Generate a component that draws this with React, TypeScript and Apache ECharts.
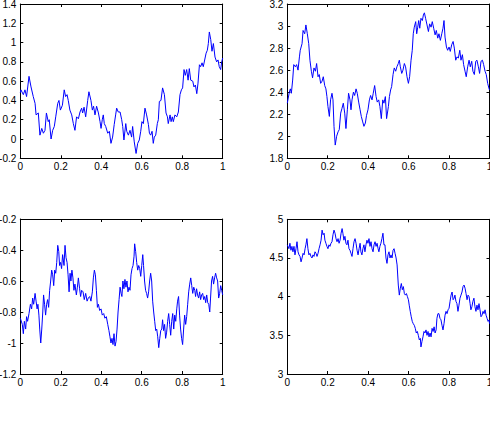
import React, { useEffect, useRef } from "react";
import * as echarts from "echarts";

// x ticks shared by all panels
const X_TICKS = [0, 0.2, 0.4, 0.6, 0.8, 1];

// Panel ranges [min, max, interval]
const Y_RANGES = [
  [-0.2, 1.4, 0.2],
  [1.8, 3.2, 0.2],
  [-1.2, -0.2, 0.2],
  [3, 5, 0.5],
];

// ---- top-left ----
const TL_T = [
  0, 0.003, 0.015, 0.023, 0.031, 0.043, 0.053, 0.064, 0.073, 0.078, 0.089,
  0.097, 0.106, 0.114, 0.122, 0.129, 0.138, 0.143, 0.152, 0.16, 0.168,
  0.175, 0.185, 0.191, 0.198, 0.208, 0.217, 0.224, 0.231, 0.237, 0.245,
  0.254, 0.262, 0.27, 0.278, 0.287, 0.295, 0.303, 0.308, 0.315, 0.323,
  0.333, 0.339, 0.349, 0.356, 0.362, 0.369, 0.377, 0.386, 0.394, 0.399,
  0.405, 0.41, 0.415, 0.422, 0.432, 0.44, 0.448, 0.456, 0.464, 0.471,
  0.476, 0.484, 0.493, 0.501, 0.506, 0.512, 0.521, 0.526, 0.534, 0.542,
  0.55, 0.555, 0.563, 0.572, 0.58, 0.588, 0.595, 0.601, 0.608, 0.616,
  0.624, 0.633, 0.638, 0.644, 0.651, 0.657, 0.662, 0.669, 0.677, 0.682,
  0.687, 0.695, 0.703, 0.712, 0.72, 0.727, 0.731, 0.74, 0.745, 0.751,
  0.756, 0.764, 0.773, 0.781, 0.789, 0.796, 0.802, 0.809, 0.815, 0.822,
  0.829, 0.835, 0.842, 0.852, 0.858, 0.865, 0.872, 0.878, 0.885, 0.891,
  0.898, 0.904, 0.913, 0.918, 0.924, 0.929, 0.934, 0.941, 0.947, 0.954,
  0.962, 0.97, 0.977, 0.983, 0.99, 0.995, 1.0,
];
const TL_V = [
  0.48, 0.51, 0.46, 0.51, 0.44, 0.65, 0.54, 0.44, 0.37, 0.25, 0.27,
  0.04, 0.11, 0.06, 0.09, 0.27, 0.18, 0.2, 0.0, 0.09, 0.13,
  0.23, 0.37, 0.4, 0.3, 0.35, 0.51, 0.44, 0.46, 0.4, 0.3,
  0.25, 0.16, 0.09, 0.23, 0.21, 0.28, 0.32, 0.27, 0.33, 0.23,
  0.4, 0.49, 0.4, 0.3, 0.34, 0.25, 0.34, 0.27, 0.18, 0.11,
  0.2, 0.25, 0.16, 0.13, 0.06, 0.08, -0.045, 0.02, 0.15, 0.25,
  0.32, 0.28, 0.28, 0.2, 0.13, -0.01, 0.16, 0.08, 0.04, 0.09,
  0.02, 0.13, -0.03, -0.15, -0.045, -0.01, 0.08, 0.18, 0.16, 0.32,
  0.25, 0.15, 0.06, 0.04, 0.08, -0.045, 0.02, 0.04, 0.16, 0.2,
  0.39, 0.4, 0.53, 0.46, 0.27, 0.23, 0.16, 0.25, 0.18, 0.23,
  0.18, 0.25, 0.23, 0.28, 0.46, 0.51, 0.53, 0.72, 0.66, 0.72,
  0.61, 0.73, 0.61, 0.6, 0.54, 0.56, 0.47, 0.58, 0.77, 0.75,
  0.79, 0.75, 0.84, 0.89, 0.92, 0.99, 1.11, 1.03, 0.91, 0.99,
  0.85, 0.8, 0.82, 0.75, 0.72, 0.8, 0.84,
];

// ---- top-right ----
const TR_T = [
  0, 0.01, 0.015, 0.02, 0.0265, 0.032, 0.04, 0.046, 0.053, 0.06,
  0.064, 0.073, 0.078, 0.086, 0.092, 0.099, 0.106, 0.112, 0.119, 0.125,
  0.132, 0.139, 0.145, 0.152, 0.158, 0.165, 0.172, 0.178, 0.185, 0.191,
  0.196, 0.201, 0.208, 0.214, 0.221, 0.226, 0.231, 0.237, 0.244, 0.251,
  0.257, 0.264, 0.27, 0.277, 0.284, 0.29, 0.297, 0.303, 0.31, 0.315,
  0.32, 0.327, 0.333, 0.34, 0.346, 0.353, 0.36, 0.366, 0.373, 0.379,
  0.386, 0.392, 0.399, 0.406, 0.412, 0.419, 0.425, 0.432, 0.439, 0.445,
  0.452, 0.458, 0.465, 0.472, 0.478, 0.485, 0.491, 0.5, 0.505, 0.511,
  0.516, 0.523, 0.529, 0.536, 0.542, 0.549, 0.554, 0.559, 0.566, 0.572,
  0.579, 0.585, 0.592, 0.599, 0.605, 0.612, 0.618, 0.623, 0.628, 0.635,
  0.64, 0.645, 0.65, 0.655, 0.661, 0.668, 0.673, 0.678, 0.684, 0.691,
  0.698, 0.704, 0.711, 0.717, 0.724, 0.731, 0.737, 0.744, 0.75, 0.757,
  0.764, 0.77, 0.775, 0.78, 0.787, 0.793, 0.8, 0.806, 0.813, 0.82,
  0.826, 0.833, 0.839, 0.846, 0.853, 0.859, 0.866, 0.872, 0.879, 0.885,
  0.892, 0.899, 0.905, 0.912, 0.918, 0.925, 0.932, 0.938, 0.945, 0.951,
  0.958, 0.965, 0.971, 0.978, 0.984, 0.991, 0.998, 1.0,
];
const TR_V = [
  2.3, 2.4, 2.43, 2.39, 2.51, 2.65, 2.63, 2.65, 2.6, 2.72,
  2.78, 2.84, 2.96, 2.93, 3.01, 2.93, 2.84, 2.69, 2.59, 2.53,
  2.62, 2.59, 2.66, 2.54, 2.56, 2.48, 2.5, 2.54, 2.46, 2.43,
  2.36, 2.27, 2.18, 2.33, 2.39, 2.33, 2.09, 1.92, 2.0, 2.04,
  2.06, 2.21, 2.25, 2.3, 2.21, 2.07, 2.24, 2.39, 2.33, 2.24,
  2.33, 2.4, 2.37, 2.43, 2.39, 2.31, 2.24, 2.18, 2.13, 2.09,
  2.12, 2.19, 2.24, 2.33, 2.37, 2.33, 2.39, 2.46, 2.36, 2.31,
  2.33, 2.27, 2.16, 2.33, 2.3, 2.36, 2.16, 2.27, 2.36, 2.42,
  2.45, 2.56, 2.62, 2.59, 2.63, 2.66, 2.69, 2.63, 2.57, 2.6,
  2.66, 2.63, 2.54, 2.48, 2.54, 2.69, 2.78, 2.93, 2.99, 3.04,
  2.93, 2.99, 3.05, 2.98, 3.07, 3.05, 3.1, 3.12, 3.07, 3.01,
  2.95, 3.02, 2.99, 3.04, 2.98, 2.92, 2.96, 2.89, 2.93, 2.87,
  2.93, 2.98, 3.05, 2.9, 2.81, 2.78, 2.81, 2.77, 2.83, 2.86,
  2.8, 2.69, 2.72, 2.71, 2.78, 2.69, 2.74, 2.65, 2.59, 2.54,
  2.63, 2.69, 2.63, 2.68, 2.59, 2.56, 2.68, 2.69, 2.63, 2.57,
  2.68, 2.69, 2.65, 2.59, 2.56, 2.48, 2.43, 2.42,
];

// ---- bottom-left ----
const BL_T = [
  0, 0.01, 0.015, 0.02, 0.0265, 0.031, 0.036, 0.043, 0.05, 0.056,
  0.061, 0.066, 0.073, 0.078, 0.083, 0.087, 0.092, 0.096, 0.101, 0.106,
  0.111, 0.115, 0.12, 0.125, 0.13, 0.135, 0.14, 0.145, 0.15, 0.155,
  0.16, 0.165, 0.17, 0.175, 0.18, 0.185, 0.19, 0.194, 0.199, 0.204,
  0.209, 0.216, 0.221, 0.226, 0.231, 0.236, 0.241, 0.246, 0.25, 0.255,
  0.26, 0.265, 0.27, 0.277, 0.282, 0.287, 0.293, 0.298, 0.303, 0.31,
  0.316, 0.323, 0.33, 0.336, 0.343, 0.349, 0.356, 0.361, 0.366, 0.371,
  0.376, 0.381, 0.386, 0.392, 0.399, 0.405, 0.412, 0.418, 0.425, 0.432,
  0.438, 0.443, 0.448, 0.453, 0.458, 0.463, 0.468, 0.473, 0.478, 0.483,
  0.488, 0.493, 0.498, 0.502, 0.507, 0.512, 0.517, 0.522, 0.527, 0.532,
  0.537, 0.542, 0.547, 0.552, 0.557, 0.562, 0.565, 0.57, 0.575, 0.58,
  0.585, 0.59, 0.595, 0.6, 0.605, 0.609, 0.614, 0.619, 0.624, 0.629,
  0.634, 0.639, 0.644, 0.649, 0.654, 0.659, 0.664, 0.669, 0.674, 0.679,
  0.684, 0.689, 0.694, 0.699, 0.703, 0.708, 0.713, 0.718, 0.723, 0.728,
  0.733, 0.738, 0.743, 0.748, 0.753, 0.758, 0.763, 0.768, 0.773, 0.777,
  0.782, 0.787, 0.792, 0.797, 0.802, 0.807, 0.812, 0.817, 0.822, 0.827,
  0.832, 0.837, 0.842, 0.847, 0.852, 0.857, 0.862, 0.866, 0.871, 0.876,
  0.881, 0.886, 0.891, 0.896, 0.901, 0.906, 0.911, 0.916, 0.921, 0.926,
  0.931, 0.936, 0.94, 0.945, 0.95, 0.955, 0.96, 0.965, 0.97, 0.975,
  0.98, 0.985, 0.99, 0.995, 1.0,
];
const BL_V = [
  -0.84, -0.88, -0.94, -0.86, -0.91, -0.83, -0.86, -0.81, -0.75, -0.78,
  -0.71, -0.75, -0.68, -0.73, -0.78, -0.75, -0.82, -0.91, -1.0, -0.91,
  -0.8, -0.69, -0.75, -0.82, -0.75, -0.72, -0.77, -0.66, -0.6, -0.53,
  -0.56, -0.63, -0.53, -0.55, -0.48, -0.37, -0.41, -0.5, -0.48, -0.52,
  -0.43, -0.5, -0.37, -0.45, -0.48, -0.56, -0.67, -0.55, -0.6, -0.53,
  -0.58, -0.66, -0.62, -0.69, -0.64, -0.58, -0.65, -0.7, -0.66, -0.67,
  -0.72, -0.68, -0.73, -0.71, -0.7, -0.73, -0.67, -0.58, -0.53, -0.56,
  -0.66, -0.77, -0.75, -0.79, -0.78, -0.82, -0.81, -0.84, -0.83, -0.88,
  -0.92, -0.96, -1.0, -0.97, -1.01, -0.94, -1.02, -0.99, -0.91, -0.8,
  -0.72, -0.64, -0.68, -0.7, -0.6, -0.65, -0.59, -0.64, -0.6, -0.67,
  -0.64, -0.66, -0.56, -0.52, -0.5, -0.44, -0.36, -0.41, -0.48, -0.53,
  -0.5, -0.52, -0.57, -0.5, -0.43, -0.5, -0.6, -0.66, -0.68, -0.71,
  -0.67, -0.6, -0.55, -0.6, -0.73, -0.8, -0.86, -0.92, -0.91, -0.96,
  -1.03, -0.97, -0.92, -0.91, -0.85, -0.92, -0.88, -0.97, -0.93, -0.86,
  -0.81, -0.88, -0.95, -0.86, -0.81, -0.91, -0.82, -0.86, -0.78, -0.73,
  -0.7, -0.82, -0.91, -0.97, -1.01, -0.91, -0.82, -0.88, -0.83, -0.75,
  -0.67, -0.62, -0.58, -0.63, -0.68, -0.64, -0.66, -0.7, -0.65, -0.69,
  -0.71, -0.67, -0.72, -0.69, -0.68, -0.72, -0.7, -0.74, -0.69, -0.74,
  -0.75, -0.8, -0.71, -0.6, -0.57, -0.62, -0.58, -0.55, -0.58, -0.6,
  -0.71, -0.68, -0.63, -0.66, -0.69,
];

// ---- bottom-right ----
const BR_T = [
  0, 0.008, 0.013, 0.018, 0.023, 0.028, 0.033, 0.038, 0.043, 0.048,
  0.053, 0.058, 0.063, 0.068, 0.073, 0.078, 0.083, 0.088, 0.092, 0.097,
  0.102, 0.107, 0.112, 0.117, 0.122, 0.127, 0.132, 0.137, 0.142, 0.147,
  0.152, 0.157, 0.162, 0.167, 0.172, 0.177, 0.182, 0.186, 0.191, 0.196,
  0.201, 0.206, 0.211, 0.216, 0.221, 0.226, 0.231, 0.236, 0.241, 0.246,
  0.251, 0.256, 0.261, 0.266, 0.271, 0.275, 0.28, 0.285, 0.29, 0.295,
  0.3, 0.305, 0.31, 0.315, 0.32, 0.325, 0.33, 0.335, 0.34, 0.345,
  0.35, 0.355, 0.36, 0.364, 0.369, 0.374, 0.379, 0.384, 0.389, 0.394,
  0.399, 0.404, 0.409, 0.414, 0.419, 0.424, 0.429, 0.434, 0.439, 0.444,
  0.449, 0.453, 0.458, 0.463, 0.468, 0.473, 0.478, 0.483, 0.488, 0.493,
  0.498, 0.503, 0.508, 0.513, 0.518, 0.523, 0.528, 0.533, 0.538, 0.543,
  0.546, 0.549, 0.554, 0.559, 0.564, 0.569, 0.574, 0.579, 0.584, 0.589,
  0.594, 0.599, 0.603, 0.608, 0.613, 0.618, 0.623, 0.628, 0.633, 0.638,
  0.643, 0.648, 0.653, 0.658, 0.661, 0.666, 0.671, 0.676, 0.681, 0.686,
  0.691, 0.696, 0.701, 0.706, 0.711, 0.716, 0.721, 0.726, 0.731, 0.736,
  0.74, 0.745, 0.75, 0.755, 0.76, 0.765, 0.77, 0.775, 0.78, 0.785,
  0.79, 0.795, 0.8, 0.805, 0.81, 0.815, 0.82, 0.825, 0.829, 0.834,
  0.839, 0.844, 0.849, 0.854, 0.859, 0.864, 0.869, 0.874, 0.879, 0.884,
  0.889, 0.894, 0.899, 0.904, 0.908, 0.913, 0.918, 0.923, 0.928, 0.933,
  0.938, 0.943, 0.948, 0.953, 0.958, 0.963, 0.968, 0.973, 0.978, 0.983,
  0.988, 0.993, 0.998, 1.0,
];
const BR_V = [
  4.67, 4.62, 4.69, 4.6, 4.65, 4.58, 4.65, 4.54, 4.62, 4.71,
  4.58, 4.54, 4.52, 4.45, 4.5, 4.56, 4.54, 4.62, 4.67, 4.75,
  4.62, 4.54, 4.56, 4.52, 4.5, 4.54, 4.52, 4.58, 4.56, 4.52,
  4.56, 4.62, 4.67, 4.73, 4.86, 4.8, 4.82, 4.73, 4.69, 4.65,
  4.62, 4.67, 4.65, 4.69, 4.71, 4.8, 4.86, 4.82, 4.75, 4.71,
  4.75, 4.69, 4.73, 4.82, 4.88, 4.82, 4.73, 4.78, 4.69, 4.67,
  4.73, 4.62, 4.6, 4.56, 4.52, 4.62, 4.71, 4.75, 4.69, 4.6,
  4.54, 4.62, 4.69, 4.58, 4.54, 4.62, 4.67, 4.58, 4.67, 4.73,
  4.69, 4.75, 4.65, 4.71, 4.62, 4.58, 4.67, 4.71, 4.65, 4.69,
  4.62, 4.58, 4.65, 4.69, 4.75, 4.82, 4.67, 4.67, 4.5, 4.43,
  4.54, 4.58, 4.5, 4.54, 4.5, 4.6, 4.62, 4.56, 4.5, 4.41,
  4.28, 4.15, 4.02, 4.11, 4.17, 4.09, 4.13, 4.04, 4.02, 4.04,
  4.0, 3.96, 3.89, 3.81, 3.74, 3.68, 3.65, 3.63, 3.59, 3.53,
  3.55, 3.5, 3.44, 3.46, 3.35, 3.42, 3.48, 3.55, 3.53, 3.57,
  3.5, 3.55, 3.48, 3.53, 3.48, 3.59, 3.55, 3.61, 3.53, 3.57,
  3.72, 3.78, 3.78, 3.72, 3.7, 3.63, 3.57, 3.65, 3.76, 3.81,
  3.78, 3.83, 3.85, 3.94, 4.02, 4.06, 3.96, 3.98, 4.02, 3.94,
  3.91, 3.81, 3.89, 3.98, 4.02, 4.06, 4.13, 4.15, 4.11, 4.04,
  3.96, 4.02, 4.0, 3.91, 3.83, 3.87, 3.94, 3.98, 3.87, 3.81,
  3.89, 3.83, 3.91, 3.83, 3.74, 3.76, 3.81, 3.78, 3.83, 3.76,
  3.72, 3.68, 3.7, 3.65,
];

const SERIES_T = [TL_T, TR_T, BL_T, BR_T];
const SERIES_V = [TL_V, TR_V, BL_V, BR_V];

const FONT = '"Liberation Sans", Arial, Helvetica, sans-serif';
const GRIDS = [
  { left: 20.3, top: 4, width: 202.4, height: 154.3 },
  { left: 287.3, top: 4, width: 202.2, height: 154.3 },
  { left: 20.3, top: 219, width: 202.4, height: 155 },
  { left: 287.3, top: 219.3, width: 202.2, height: 154.7 },
];

function fmt(v: number) {
  const r = Math.round(v * 100) / 100;
  return String(r === 0 ? 0 : r);
}

function zip(ts: number[], vs: number[]) {
  const n = Math.min(ts.length, vs.length);
  const out: number[][] = [];
  for (let i = 0; i < n; i++) out.push([ts[i], vs[i]]);
  return out;
}

function buildOption() {
  const axisLine = { show: true, onZero: false, lineStyle: { color: "#000", width: 1 } };
  const tick = { show: true, inside: true, length: 3, lineStyle: { color: "#000", width: 1 } };
  const label = { color: "#000", fontFamily: FONT, fontSize: 10 };
  const xAxis: any[] = [];
  const yAxis: any[] = [];
  GRIDS.forEach((_, i) => {
    const [ymin, ymax, yint] = Y_RANGES[i];
    xAxis.push({
      type: "value", gridIndex: i, position: "bottom",
      min: X_TICKS[0], max: X_TICKS[X_TICKS.length - 1], interval: X_TICKS[1] - X_TICKS[0],
      axisLine, axisTick: tick, splitLine: { show: false },
      axisLabel: { ...label, margin: 3, formatter: fmt },
    });
    yAxis.push({
      type: "value", gridIndex: i, position: "left",
      min: ymin, max: ymax, interval: yint,
      axisLine, axisTick: tick, splitLine: { show: false },
      axisLabel: { ...label, margin: 4, formatter: fmt },
    });
  });
  GRIDS.forEach((_, i) => {
    const [ymin, ymax, yint] = Y_RANGES[i];
    xAxis.push({
      type: "value", gridIndex: i, position: "top",
      min: X_TICKS[0], max: X_TICKS[X_TICKS.length - 1], interval: X_TICKS[1] - X_TICKS[0],
      axisLine, axisTick: tick, splitLine: { show: false }, axisLabel: { show: false },
    });
    yAxis.push({
      type: "value", gridIndex: i, position: "right",
      min: ymin, max: ymax, interval: yint,
      axisLine, axisTick: tick, splitLine: { show: false }, axisLabel: { show: false },
    });
  });
  return {
    animation: false,
    backgroundColor: "#fff",
    grid: GRIDS.map((g) => ({ ...g, containLabel: false, outerBoundsMode: "none", show: false })),
    xAxis,
    yAxis,
    series: SERIES_T.map((ts, i) => ({
      type: "line",
      xAxisIndex: i,
      yAxisIndex: i,
      data: zip(ts, SERIES_V[i]),
      showSymbol: false,
      symbol: "none",
      silent: true,
      lineStyle: { color: "#0000ff", width: 1 },
    })),
  };
}

export default function App() {
  const ref = useRef<HTMLDivElement>(null);
  useEffect(() => {
    if (!ref.current) return;
    const chart = echarts.init(ref.current, null, { renderer: "svg" });
    chart.setOption(buildOption() as any);
    return () => chart.dispose();
  }, []);
  return (
    <div
      ref={ref}
      style={{ position: "absolute", left: 0, top: 0, width: 490, height: 424, background: "#fff" }}
    />
  );
}
